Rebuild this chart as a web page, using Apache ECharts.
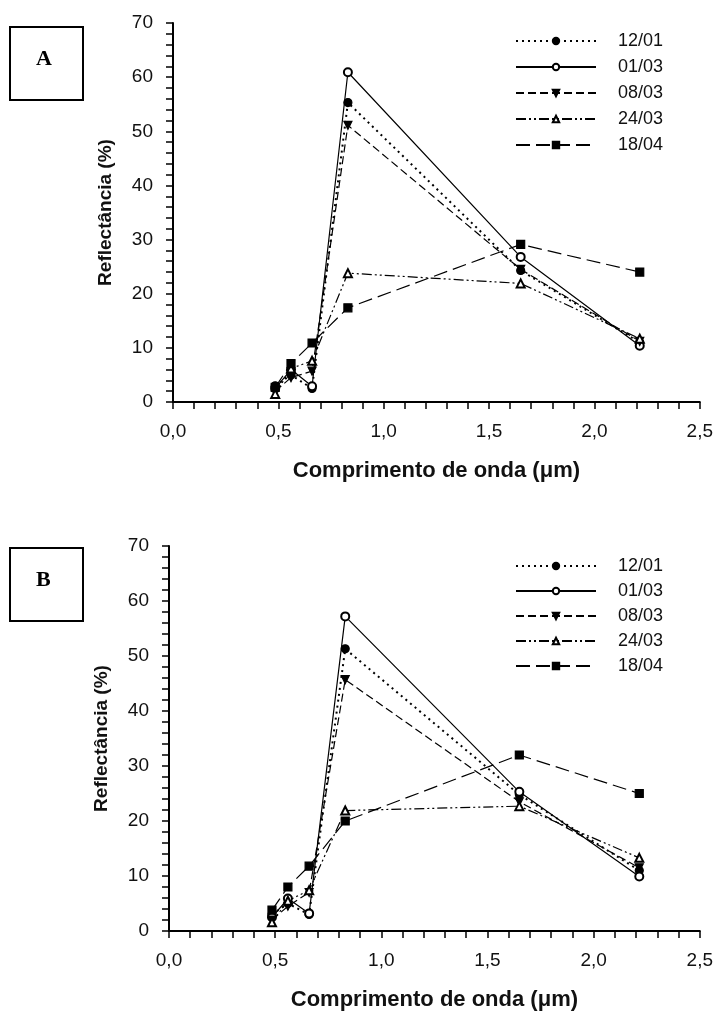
<!DOCTYPE html>
<html>
<head>
<meta charset="utf-8">
<script src="https://cdn.jsdelivr.net/npm/echarts@6/dist/echarts.min.js"></script>
<style>
html,body{margin:0;padding:0;background:#fff;}
#chart{width:716px;height:1012px;}
</style>
</head>
<body>
<div id="chart"></div>
<script>
// Wavelengths (µm) of the six bands
const wavelengths = [0.485, 0.56, 0.66, 0.83, 1.65, 2.215];
const seriesNames = ['12/01', '01/03', '08/03', '24/03', '18/04'];

// Panel A reflectance (%)
const A_1201 = [3.0, 5.0, 2.5, 55.3, 24.3, 11.0];
const A_0103 = [2.5, 6.0, 2.9, 60.9, 26.8, 10.4];
const A_0803 = [2.0, 4.5, 5.7, 51.1, 24.5, 11.2];
const A_2403 = [1.5, 6.2, 7.6, 23.8, 21.9, 11.7];
const A_1804 = [2.7, 7.1, 10.9, 17.4, 29.1, 24.0];

// Panel B reflectance (%)
const B_1201 = [3.0, 5.0, 3.0, 51.3, 24.8, 11.0];
const B_0103 = [2.5, 5.9, 3.2, 57.2, 25.3, 9.9];
const B_0803 = [2.0, 4.5, 7.0, 45.7, 23.5, 11.5];
const B_2403 = [1.6, 5.5, 7.4, 21.9, 22.7, 13.3];
const B_1804 = [3.8, 8.0, 11.8, 20.0, 32.0, 25.0];

const panelLabels = ['A', 'B'];
const xTickStep = 0.5, xMinorStep = 0.1, yTickStep = 10, yMinorStep = 2;

const FONT = '"Liberation Sans", Arial, sans-serif';
const INK = '#111';

const styles = [
  {symbol: 'circle', rotate: 0, line: {type: [2, 4], width: 2}},
  {symbol: 'emptyCircle', rotate: 0, line: {type: 'solid', width: 1.2}},
  {symbol: 'triangle', rotate: 180, line: {type: [8, 4], width: 1.2}},
  {symbol: 'emptyTriangle', rotate: 0, line: {type: [10, 3, 2, 3, 2, 3], width: 1.2}},
  {symbol: 'rect', rotate: 0, line: {type: [14, 6], width: 1.2}}
];

const panels = [
  {data: [A_1201, A_0103, A_0803, A_2403, A_1804], grid: {left: 173, top: 23, width: 527, height: 379}, legendTop: 32, legendGap: 8},
  {data: [B_1201, B_0103, B_0803, B_2403, B_1804], grid: {left: 169, top: 546, width: 535, height: 385}, legendTop: 557, legendGap: 7}
];

const pair = arr => wavelengths.map((w, i) => [w, arr[i]]);

const grids = [], xAxes = [], yAxes = [], series = [], legends = [], graphics = [];

panels.forEach((p, gi) => {
  grids.push(p.grid);
  xAxes.push({
    type: 'value', gridIndex: gi, min: 0, max: 2.5, interval: xTickStep,
    name: 'Comprimento de onda (\u03bcm)', nameLocation: 'middle', nameGap: 58,
    nameTextStyle: {fontFamily: FONT, fontSize: 22, fontWeight: 'bold', color: INK},
    axisLine: {show: true, onZero: false, lineStyle: {color: '#000', width: 2}},
    axisTick: {show: true, inside: false, length: 6, lineStyle: {color: '#000', width: 1.5}},
    axisLabel: {margin: 20, fontFamily: FONT, fontSize: 19, color: INK,
      formatter: v => v.toFixed(1).replace('.', ',')},
    splitLine: {show: false}
  });
  xAxes.push({
    type: 'value', gridIndex: gi, min: 0, max: 2.5, interval: xMinorStep,
    axisLine: {show: false}, axisLabel: {show: false}, splitLine: {show: false},
    axisTick: {show: true, inside: true, length: 7, lineStyle: {color: '#000', width: 1.5}}
  });
  yAxes.push({
    type: 'value', gridIndex: gi, min: 0, max: 70, interval: yTickStep,
    name: 'Reflect\u00e2ncia (%)', nameLocation: 'middle', nameGap: 58, nameRotate: 90,
    nameTextStyle: {fontFamily: FONT, fontSize: 19, fontWeight: 'bold', color: INK},
    axisLine: {show: true, onZero: false, lineStyle: {color: '#000', width: 2}},
    axisTick: {show: true, inside: false, length: 6, lineStyle: {color: '#000', width: 1.5}},
    axisLabel: {margin: 20, fontFamily: FONT, fontSize: 19, color: INK},
    splitLine: {show: false}
  });
  yAxes.push({
    type: 'value', gridIndex: gi, min: 0, max: 70, interval: yMinorStep,
    axisLine: {show: false}, axisLabel: {show: false}, splitLine: {show: false},
    axisTick: {show: true, inside: true, length: 7, lineStyle: {color: '#000', width: 1.5}}
  });
  p.data.forEach((arr, si) => {
    const st = styles[si];
    series.push({
      type: 'line', name: seriesNames[si],
      xAxisIndex: gi * 2, yAxisIndex: gi * 2,
      data: pair(arr),
      symbol: st.symbol, symbolSize: 8, symbolRotate: st.rotate,
      showAllSymbol: true,
      lineStyle: Object.assign({color: '#000'}, st.line),
      itemStyle: {color: '#000', borderColor: '#000', borderWidth: 1.2},
      emphasis: {disabled: true},
      animation: false
    });
  });
  legends.push({
    orient: 'vertical', left: 515, top: p.legendTop, padding: 0,
    itemWidth: 80, itemHeight: 8, itemGap: p.legendGap,
    data: seriesNames.map(n => ({name: n})),
    textStyle: {fontFamily: FONT, fontSize: 18, color: INK, lineHeight: 18, padding: [0, 0, 0, 17]},
    selectedMode: false
  });
  const boxTop = gi === 0 ? 26 : 547;
  graphics.push({
    type: 'rect', left: 9, top: boxTop,
    shape: {width: 73, height: 73},
    style: {fill: '#fff', stroke: '#000', lineWidth: 2}
  });
  graphics.push({
    type: 'text', left: 36, top: boxTop + 22,
    style: {text: panelLabels[gi], font: 'bold 22px "Liberation Serif", "Times New Roman", serif', fill: '#000'}
  });
});

const chart = echarts.init(document.getElementById('chart'), null, {renderer: 'canvas'});
chart.setOption({
  backgroundColor: '#fff',
  animation: false,
  grid: grids,
  xAxis: xAxes,
  yAxis: yAxes,
  legend: legends,
  series: series,
  graphic: graphics
});
</script>
</body>
</html>
